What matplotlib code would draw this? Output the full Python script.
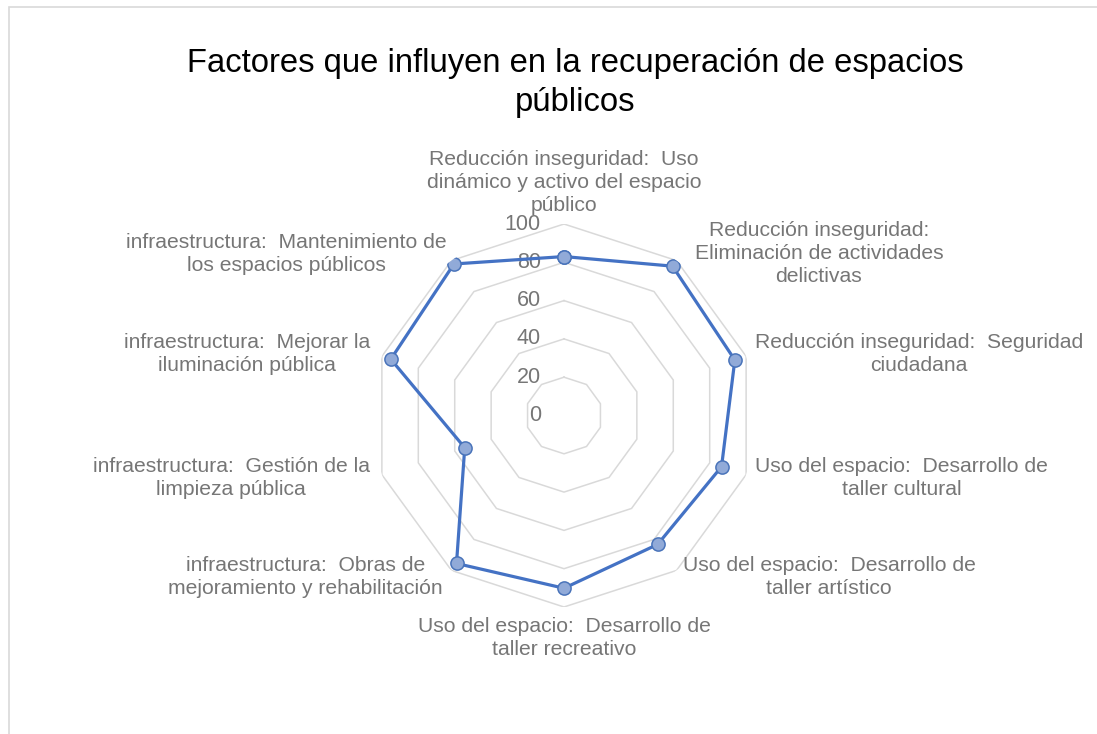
import numpy as np
import matplotlib.pyplot as plt
from matplotlib.patches import Rectangle

plt.rcParams['font.family'] = ['Liberation Sans', 'DejaVu Sans']

# data
categories = [
    "Reducción inseguridad:  Uso\ndinámico y activo del espacio\npúblico",
    "Reducción inseguridad:\nEliminación de actividades\ndelictivas",
    "Reducción inseguridad:  Seguridad\nciudadana",
    "Uso del espacio:  Desarrollo de\ntaller cultural",
    "Uso del espacio:  Desarrollo de\ntaller artístico",
    "Uso del espacio:  Desarrollo de\ntaller recreativo",
    "infraestructura:  Obras de\nmejoramiento y rehabilitación",
    "infraestructura:  Gestión de la\nlimpieza pública",
    "infraestructura:  Mejorar la\niluminación pública",
    "infraestructura:  Mantenimiento de\nlos espacios públicos",
]
values = [83, 96.4, 93.8, 86.5, 83.2, 90.2, 95.5, 54.5, 95.1, 97.8]
rings = [0, 20, 40, 60, 80, 100]

# label placement: offset from the outer vertex (pixels) and alignment
label_offsets = [(0, 9), (18, 7), (9, 2), (9, -3), (6, -7),
                 (0, -10), (-9, -7), (-12, -3), (-12, 2), (-5, 7)]
label_align = [("center", "bottom"), ("left", "center"), ("left", "center"),
               ("left", "center"), ("left", "center"), ("center", "top"),
               ("right", "center"), ("right", "center"), ("right", "center"),
               ("right", "center")]

grey_text = "#767676"
blue = "#4472C4"

n = len(categories)
theta = np.linspace(0, 2 * np.pi, n, endpoint=False)

fig = plt.figure(figsize=(10.97, 7.34), dpi=100)
fig.patches.append(Rectangle((9 / 1097, -0.1), 1.2, 1 - 7 / 734 + 0.1,
                             transform=fig.transFigure, fill=False,
                             edgecolor="#D9D9D9", linewidth=1.2))

# polar axis: center (564, 415.5) px, radius 191.5 px
cx, cy, rad = 564 / 1097, 1 - 415.5 / 734, 191.5
ax = fig.add_axes([cx - rad / 1097, cy - rad / 734, 2 * rad / 1097, 2 * rad / 734],
                  projection="polar")
ax.set_theta_zero_location("N")
ax.set_theta_direction(-1)
ax.set_ylim(0, 100)
ax.axis("off")

# polygon gridlines
t_closed = np.append(theta, theta[0])
for r in rings[1:]:
    ax.plot(t_closed, [r] * (n + 1), color="#D9D9D9", linewidth=1.1, zorder=1)

# ring labels
for r in rings:
    ax.annotate(str(r), xy=(0, r), xytext=(-23, 0), textcoords="offset pixels",
                ha="right", va="center", fontsize=15.5, color=grey_text)

# data series
v_closed = values + values[:1]
ax.plot(t_closed, v_closed, color=blue, linewidth=2.3, zorder=3,
        marker="o", markersize=9.5, markerfacecolor="#91AAD8",
        markeredgecolor="#4A74BA", markeredgewidth=1.1)

# category labels
for t, lab, off, (ha, va) in zip(theta, categories, label_offsets, label_align):
    ax.annotate(lab, xy=(t, 100), xytext=off, textcoords="offset pixels",
                ha=ha, va=va, multialignment="center", fontsize=15.2,
                color=grey_text, linespacing=1.27, annotation_clip=False)

fig.text(575 / 1097, 1 - 83 / 734,
         "Factores que influyen en la recuperación de espacios\npúblicos",
         ha="center", va="center", fontsize=23.6, color="#000000", linespacing=1.33)

fig.savefig("out.png", dpi=100)
